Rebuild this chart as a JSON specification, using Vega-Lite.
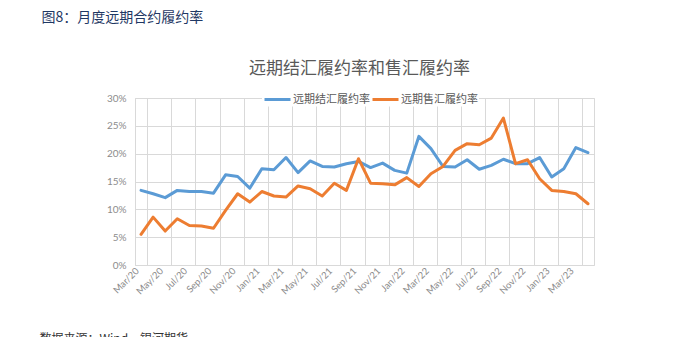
{
  "$schema": "https://vega.github.io/schema/vega-lite/v6.json",
  "width": 459,
  "height": 167,
  "autosize": {"type": "none"},
  "padding": {"left": 135, "top": 98, "right": 96, "bottom": 72},
  "background": "white",
  "title": {
    "text": "远期结汇履约率和售汇履约率",
    "anchor": "middle",
    "frame": "group",
    "dx": -5,
    "dy": 68,
    "offset": 0,
    "font": "Noto Sans CJK SC",
    "fontSize": 17,
    "fontWeight": "normal",
    "color": "#595959"
  },
  "data": {
    "values": [
      {"month": "Mar/20", "series": "远期结汇履约率", "rate": 13.4},
      {"month": "Apr/20", "series": "远期结汇履约率", "rate": 12.8},
      {"month": "May/20", "series": "远期结汇履约率", "rate": 12.1},
      {"month": "Jun/20", "series": "远期结汇履约率", "rate": 13.4},
      {"month": "Jul/20", "series": "远期结汇履约率", "rate": 13.2},
      {"month": "Aug/20", "series": "远期结汇履约率", "rate": 13.2},
      {"month": "Sep/20", "series": "远期结汇履约率", "rate": 12.9},
      {"month": "Oct/20", "series": "远期结汇履约率", "rate": 16.2},
      {"month": "Nov/20", "series": "远期结汇履约率", "rate": 15.9},
      {"month": "Dec/20", "series": "远期结汇履约率", "rate": 13.8},
      {"month": "Jan/21", "series": "远期结汇履约率", "rate": 17.3},
      {"month": "Feb/21", "series": "远期结汇履约率", "rate": 17.1},
      {"month": "Mar/21", "series": "远期结汇履约率", "rate": 19.3},
      {"month": "Apr/21", "series": "远期结汇履约率", "rate": 16.6},
      {"month": "May/21", "series": "远期结汇履约率", "rate": 18.7},
      {"month": "Jun/21", "series": "远期结汇履约率", "rate": 17.7},
      {"month": "Jul/21", "series": "远期结汇履约率", "rate": 17.6},
      {"month": "Aug/21", "series": "远期结汇履约率", "rate": 18.2},
      {"month": "Sep/21", "series": "远期结汇履约率", "rate": 18.6},
      {"month": "Oct/21", "series": "远期结汇履约率", "rate": 17.5},
      {"month": "Nov/21", "series": "远期结汇履约率", "rate": 18.3},
      {"month": "Dec/21", "series": "远期结汇履约率", "rate": 17.0},
      {"month": "Jan/22", "series": "远期结汇履约率", "rate": 16.5},
      {"month": "Feb/22", "series": "远期结汇履约率", "rate": 23.1},
      {"month": "Mar/22", "series": "远期结汇履约率", "rate": 20.9},
      {"month": "Apr/22", "series": "远期结汇履约率", "rate": 17.7},
      {"month": "May/22", "series": "远期结汇履约率", "rate": 17.6},
      {"month": "Jun/22", "series": "远期结汇履约率", "rate": 18.9},
      {"month": "Jul/22", "series": "远期结汇履约率", "rate": 17.2},
      {"month": "Aug/22", "series": "远期结汇履约率", "rate": 17.9},
      {"month": "Sep/22", "series": "远期结汇履约率", "rate": 19.0},
      {"month": "Oct/22", "series": "远期结汇履约率", "rate": 18.2},
      {"month": "Nov/22", "series": "远期结汇履约率", "rate": 18.2},
      {"month": "Dec/22", "series": "远期结汇履约率", "rate": 19.3},
      {"month": "Jan/23", "series": "远期结汇履约率", "rate": 15.8},
      {"month": "Feb/23", "series": "远期结汇履约率", "rate": 17.3},
      {"month": "Mar/23", "series": "远期结汇履约率", "rate": 21.1},
      {"month": "Apr/23", "series": "远期结汇履约率", "rate": 20.2},
      {"month": "Mar/20", "series": "远期售汇履约率", "rate": 5.5},
      {"month": "Apr/20", "series": "远期售汇履约率", "rate": 8.6},
      {"month": "May/20", "series": "远期售汇履约率", "rate": 6.1},
      {"month": "Jun/20", "series": "远期售汇履约率", "rate": 8.3},
      {"month": "Jul/20", "series": "远期售汇履约率", "rate": 7.1},
      {"month": "Aug/20", "series": "远期售汇履约率", "rate": 7.0},
      {"month": "Sep/20", "series": "远期售汇履约率", "rate": 6.6},
      {"month": "Oct/20", "series": "远期售汇履约率", "rate": 9.8},
      {"month": "Nov/20", "series": "远期售汇履约率", "rate": 12.8},
      {"month": "Dec/20", "series": "远期售汇履约率", "rate": 11.3},
      {"month": "Jan/21", "series": "远期售汇履约率", "rate": 13.2},
      {"month": "Feb/21", "series": "远期售汇履约率", "rate": 12.4},
      {"month": "Mar/21", "series": "远期售汇履约率", "rate": 12.2},
      {"month": "Apr/21", "series": "远期售汇履约率", "rate": 14.2},
      {"month": "May/21", "series": "远期售汇履约率", "rate": 13.7},
      {"month": "Jun/21", "series": "远期售汇履约率", "rate": 12.4},
      {"month": "Jul/21", "series": "远期售汇履约率", "rate": 14.7},
      {"month": "Aug/21", "series": "远期售汇履约率", "rate": 13.4},
      {"month": "Sep/21", "series": "远期售汇履约率", "rate": 19.1},
      {"month": "Oct/21", "series": "远期售汇履约率", "rate": 14.7},
      {"month": "Nov/21", "series": "远期售汇履约率", "rate": 14.6},
      {"month": "Dec/21", "series": "远期售汇履约率", "rate": 14.4},
      {"month": "Jan/22", "series": "远期售汇履约率", "rate": 15.7},
      {"month": "Feb/22", "series": "远期售汇履约率", "rate": 14.1},
      {"month": "Mar/22", "series": "远期售汇履约率", "rate": 16.4},
      {"month": "Apr/22", "series": "远期售汇履约率", "rate": 17.7},
      {"month": "May/22", "series": "远期售汇履约率", "rate": 20.6},
      {"month": "Jun/22", "series": "远期售汇履约率", "rate": 21.8},
      {"month": "Jul/22", "series": "远期售汇履约率", "rate": 21.6},
      {"month": "Aug/22", "series": "远期售汇履约率", "rate": 22.8},
      {"month": "Sep/22", "series": "远期售汇履约率", "rate": 26.4},
      {"month": "Oct/22", "series": "远期售汇履约率", "rate": 18.2},
      {"month": "Nov/22", "series": "远期售汇履约率", "rate": 18.9},
      {"month": "Dec/22", "series": "远期售汇履约率", "rate": 15.5},
      {"month": "Jan/23", "series": "远期售汇履约率", "rate": 13.4},
      {"month": "Feb/23", "series": "远期售汇履约率", "rate": 13.2},
      {"month": "Mar/23", "series": "远期售汇履约率", "rate": 12.8},
      {"month": "Apr/23", "series": "远期售汇履约率", "rate": 11.0}
    ]
  },
  "mark": {"type": "line", "strokeWidth": 3, "strokeJoin": "round", "strokeCap": "round"},
  "encoding": {
    "x": {
      "field": "month",
      "type": "ordinal",
      "sort": null,
      "bandPosition": 0.5,
      "scale": {"type": "band", "paddingInner": 0, "paddingOuter": 0},
      "axis": {
        "values": ["Mar/20", "May/20", "Jul/20", "Sep/20", "Nov/20", "Jan/21", "Mar/21", "May/21", "Jul/21", "Sep/21", "Nov/21", "Jan/22", "Mar/22", "May/22", "Jul/22", "Sep/22", "Nov/22", "Jan/23", "Mar/23"],
        "tickBand": "extent",
        "grid": true,
        "gridColor": "#d9d9d9",
        "ticks": false,
        "domain": false,
        "labelAngle": -45,
        "labelAlign": "right",
        "labelBaseline": "middle",
        "labelPadding": 4,
        "labelOffset": -4,
        "labelFont": "Lato",
        "labelFontSize": 9.5,
        "labelColor": "#8c8c8c",
        "title": "数据来源：Wind，银河期货",
        "titleX": -96,
        "titleY": 68,
        "titleAlign": "left",
        "titleBaseline": "top",
        "titleAngle": 0,
        "titleFont": "Noto Sans CJK SC",
        "titleFontSize": 12,
        "titleFontWeight": "normal",
        "titleColor": "#333333"
      }
    },
    "y": {
      "field": "rate",
      "type": "quantitative",
      "scale": {"domain": [0, 30], "nice": false},
      "axis": {
        "values": [0, 5, 10, 15, 20, 25, 30],
        "labelExpr": "datum.value + '%'",
        "grid": true,
        "gridColor": "#d9d9d9",
        "ticks": false,
        "domain": false,
        "labelPadding": 9,
        "labelFont": "Lato",
        "labelFontSize": 10,
        "labelColor": "#8c8c8c",
        "title": "图8：月度远期合约履约率",
        "titleAngle": 0,
        "titleX": -94,
        "titleY": -81,
        "titleAlign": "left",
        "titleBaseline": "middle",
        "titleFont": "Noto Sans CJK SC",
        "titleFontSize": 14,
        "titleFontWeight": "normal",
        "titleColor": "#1f3864"
      }
    },
    "color": {
      "field": "series",
      "type": "nominal",
      "scale": {"domain": ["远期结汇履约率", "远期售汇履约率"], "range": ["#5b9bd5", "#ed7d31"]},
      "legend": {
        "orient": "none",
        "direction": "horizontal",
        "legendX": 127,
        "legendY": -7.5,
        "padding": 1,
        "fillColor": "white",
        "title": null,
        "symbolType": "M-1,0H3",
        "symbolSize": 169,
        "symbolStrokeWidth": 3,
        "labelFont": "Noto Sans CJK SC",
        "labelFontSize": 11,
        "labelColor": "#595959",
        "labelOffset": 14,
        "columnPadding": -4
      }
    }
  },
  "config": {
    "view": {"stroke": "#d9d9d9"}
  }
}
